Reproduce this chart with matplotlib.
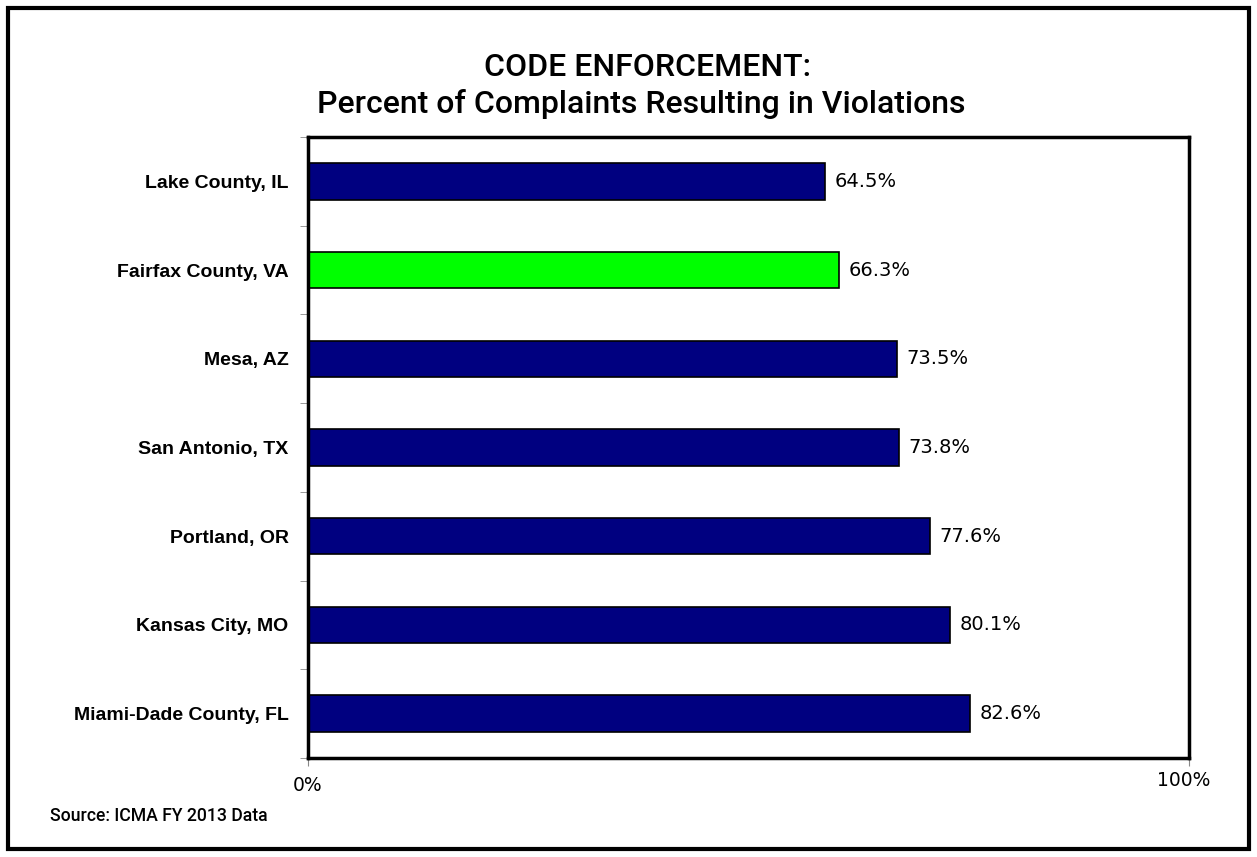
import matplotlib.pyplot as plt
import matplotlib.transforms as mtransforms
from matplotlib.patches import Rectangle

# données (de haut en bas)
villes = ["Lake County, IL", "Fairfax County, VA", "Mesa, AZ", "San Antonio, TX",
          "Portland, OR", "Kansas City, MO", "Miami-Dade County, FL"]
pourcentages = [64.5, 66.3, 73.5, 73.8, 77.6, 80.1, 82.6]
couleurs = ["#000080", "#00FF00", "#000080", "#000080", "#000080", "#000080", "#000080"]
ticks_x = [0, 110]
labels_x = ["0%", "100%"]

plt.rcParams['font.family'] = ['Liberation Sans', 'DejaVu Sans']

fig = plt.figure(figsize=(12.57, 8.57), dpi=100)
ax = fig.add_axes([308 / 1257, 1 - 758 / 857, (1189 - 308) / 1257, (758 - 137) / 857])

pos = list(range(len(villes)))
ax.barh(pos, pourcentages, height=0.41, color=couleurs, edgecolor="black", linewidth=1.2)
ax.set_ylim(len(villes) - 0.5, -0.5)
ax.set_xlim(0, 110)

# étiquettes de valeur
for y, v in zip(pos, pourcentages):
    ax.text(v + 1.2, y, f"{v:.1f}%", va="center", ha="left", fontsize=14,
            family="DejaVu Sans")

# axe y : labels en gras, petites graduations aux séparations
ax.set_yticks(pos)
ax.set_yticklabels(villes, fontsize=14, fontweight="bold")
ax.tick_params(axis="y", length=0, pad=14)
ax.set_yticks([p + 0.5 for p in range(-1, len(villes))], minor=True)
ax.tick_params(axis="y", which="minor", length=6, color="#888888")

ax.set_xticks(ticks_x)
ax.set_xticklabels(labels_x, fontsize=13.5, family="DejaVu Sans")
ax.tick_params(axis="x", length=6, color="#888888", pad=7)
# le "100%" est un peu plus haut et à gauche dans l'original
lab100 = ax.get_xticklabels()[1]
lab100.set_transform(lab100.get_transform() +
                     mtransforms.ScaledTranslation(-5 / 100, 5 / 100, fig.dpi_scale_trans))

for s in ax.spines.values():
    s.set_linewidth(2.5)
    s.set_color("black")

# titre
fig.text(647 / 1257, 1 - 68 / 857, "CODE ENFORCEMENT:", ha="center", va="center",
         fontsize=23, fontweight="medium", family=["Roboto", "DejaVu Sans"])
fig.text(641 / 1257, 1 - 104 / 857, "Percent of Complaints Resulting in Violations",
         ha="center", va="center", fontsize=23, fontweight="medium",
         family=["Roboto", "DejaVu Sans"])

fig.text(50 / 1257, 1 - 816 / 857, "Source: ICMA FY 2013 Data", ha="left", va="center",
         fontsize=12.7, fontweight="medium", family=["Roboto", "DejaVu Sans"])

# cadre autour de la figure
fig.patches.append(Rectangle((8 / 1257, 1 - 849 / 857), 1241 / 1257, 841 / 857,
                             transform=fig.transFigure, fill=False, edgecolor="black",
                             linewidth=3))

fig.savefig("out.png", dpi=100)
